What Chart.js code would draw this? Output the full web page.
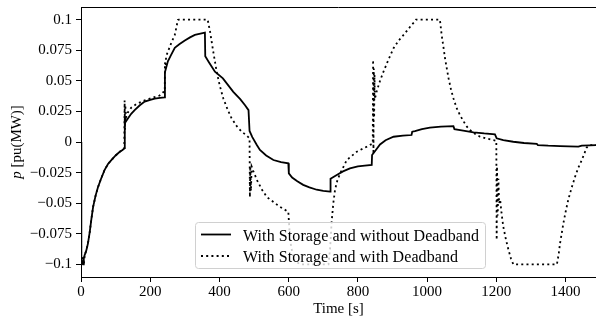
<!DOCTYPE html>
<html>
<head>
<meta charset="utf-8">
<script src="https://cdn.jsdelivr.net/npm/chart.js@4.4.0/dist/chart.umd.min.js"></script>
<style>
  html, body { margin: 0; padding: 0; background: #fff; }
  #wrap { position: relative; width: 596px; height: 318px; overflow: hidden; }
  #legend { position: absolute; left: 195px; top: 222px; }
</style>
</head>
<body>
<div id="wrap">
  <canvas id="myChart" width="596" height="318"></canvas>
  <svg id="legend" width="292" height="48" xmlns="http://www.w3.org/2000/svg">
    <rect x="0.5" y="0.5" width="290" height="46" rx="3" ry="3" fill="#fff" fill-opacity="0.8" stroke="#d0d0d0" stroke-width="1"></rect>
    <line x1="6" y1="12.5" x2="36" y2="12.5" stroke="#000" stroke-width="1.8"></line>
    <line x1="6" y1="34" x2="36" y2="34" stroke="#000" stroke-width="1.8" stroke-dasharray="2,3.2"></line>
    <text id="label0" x="48" y="18.5" font-family="Liberation Serif" font-size="16" textLength="236" lengthAdjust="spacing" fill="#000"></text>
    <text id="label1" x="48" y="39.7" font-family="Liberation Serif" font-size="16" textLength="215" lengthAdjust="spacing" fill="#000"></text>
  </svg>
</div>
<script>
const seriesLabels = ['With Storage and without Deadband', 'With Storage and with Deadband'];

// tick values
const timeTicks = [0, 200, 400, 600, 800, 1000, 1200, 1400];
const powerTicks = [-0.1, -0.075, -0.05, -0.025, 0, 0.025, 0.05, 0.075, 0.1];

// with storage, no deadband (solid)
const solidTime = [0, 1, 3, 6, 8, 11, 15, 20, 25, 30, 35, 42, 49, 58, 68, 78, 87, 100, 112, 120, 126,
  126.5, 128, 135, 145, 155, 170, 184, 200, 213, 228, 242, 242.5, 251, 260, 271, 285, 300, 315, 329, 345, 358,
  359, 370, 387, 410, 440, 460, 474, 484, 487, 495, 508, 517, 535, 556, 578, 599, 600.5, 610, 625, 642, 660,
  681, 700, 720, 721, 739, 757, 777, 800, 820, 840, 841, 852, 864, 880, 903, 930, 955, 957, 965, 985, 1008,
  1040, 1076, 1079, 1100, 1134, 1165, 1196, 1201, 1220, 1249, 1280, 1317, 1320, 1350, 1384, 1410, 1437, 1447,
  1470, 1488];
const solidPower = [0, -0.1, -0.098, -0.1, -0.095, -0.092, -0.089, -0.083, -0.074, -0.063, -0.053, -0.044,
  -0.037, -0.03, -0.023, -0.018, -0.015, -0.011, -0.008, -0.0065, -0.005,
  0.02, 0.016, 0.019, 0.023, 0.026, 0.03, 0.033, 0.0345, 0.0355, 0.036, 0.0365, 0.057, 0.066, 0.071, 0.077,
  0.08, 0.083, 0.0855, 0.0875, 0.0885, 0.0893,
  0.07, 0.065, 0.0575, 0.052, 0.041, 0.035, 0.03, 0.026, 0.009, 0.004, -0.0025, -0.0065, -0.011, -0.0147,
  -0.0165, -0.0174, -0.0256, -0.029, -0.032, -0.035, -0.037,
  -0.039, -0.04, -0.0406, -0.03, -0.027, -0.024, -0.0215, -0.02, -0.0193, -0.0188, -0.0106, -0.0065, -0.002,
  0.0015, 0.0043, 0.0052, 0.0057, 0.0084, 0.0088, 0.0105, 0.0117,
  0.0126, 0.013, 0.0105, 0.0095, 0.0079, 0.007, 0.0063, 0.003, 0.0015, 0.0002, -0.0008, -0.0016, -0.0025,
  -0.003, -0.0033, -0.0036, -0.0038, -0.003,
  -0.0027, -0.0025];

// with storage and deadband (dotted)
const dottedTime = [0, 0.5, 2, 4, 6, 8, 10, 11, 15, 20, 25, 30, 35, 42, 49, 58, 68, 78, 87, 100, 112, 120, 125,
  126, 127, 128, 130, 135, 145, 160, 184, 205, 227, 237, 242, 242.5, 244, 246, 251, 261, 271, 280, 283,
  366, 373, 382, 392, 401, 411, 423, 435, 450, 464, 478, 487, 488, 489, 491, 493, 496, 498, 510, 523, 537,
  556, 575, 599, 604, 614, 633, 715, 720, 724, 729, 734, 741, 749, 768, 797, 826, 843, 844, 845, 846, 847,
  848, 849, 854, 864, 874, 888, 903, 918, 932, 945, 955, 963, 968, 1037, 1042, 1047, 1052, 1057, 1062,
  1069, 1076, 1085, 1095, 1105, 1115, 1124, 1138, 1153, 1172, 1192, 1200, 1201, 1202, 1204, 1206, 1208,
  1211, 1215, 1220, 1228, 1235, 1242, 1249, 1375, 1380, 1384, 1394, 1401, 1408, 1418, 1428, 1437, 1447,
  1455, 1461, 1470, 1488];
const dottedPower = [0, -0.1, -0.097, -0.1, -0.094, -0.1, -0.095, -0.092, -0.089, -0.083, -0.074, -0.063,
  -0.053, -0.044, -0.037, -0.03, -0.023, -0.018, -0.015, -0.011, -0.008, -0.0065, -0.005,
  0.034, 0.01, 0.03, 0.02, 0.024, 0.028, 0.031, 0.034, 0.036, 0.038, 0.0406, 0.041, 0.065, 0.06, 0.07,
  0.0738, 0.081, 0.0875, 0.0997, 0.1,
  0.1, 0.09, 0.074, 0.0575, 0.046, 0.0357, 0.027, 0.0194, 0.013, 0.0085, 0.0055, 0.003, -0.045, -0.02,
  -0.04, -0.02, -0.022, -0.024, -0.032, -0.039, -0.045,
  -0.049, -0.053, -0.057, -0.08, -0.096, -0.1, -0.1, -0.086, -0.066, -0.05, -0.039, -0.031, -0.0256,
  -0.0147, -0.0079, -0.0038, -0.0012, 0.067, -0.01, 0.06, 0.02,
  0.055, 0.035, 0.041, 0.05, 0.0575, 0.067, 0.0766, 0.083, 0.0875, 0.092, 0.0956, 0.098, 0.1, 0.1, 0.0875,
  0.078, 0.068, 0.06, 0.052,
  0.043, 0.0357, 0.028, 0.022, 0.017, 0.0125, 0.0098, 0.0068, 0.0043, 0.0028, 0.0016, 0.001, -0.08, -0.02,
  -0.06, -0.03, -0.05,
  -0.047, -0.058, -0.069, -0.08, -0.088, -0.095, -0.1, -0.1, -0.092, -0.083, -0.066, -0.056, -0.047, -0.037,
  -0.028, -0.021, -0.0147,
  -0.009, -0.0045, -0.0025, -0.0025];

const serif = '"Liberation Serif", "Times New Roman", serif';

function toPoints(xs, ys) {
  return xs.map((x, i) => ({ x: x, y: ys[i] }));
}

function fmtTick(v) {
  if (v < 0) return '\u2212' + String(-v);
  return String(v);
}

/* matplotlib style top spine */
const topSpine = {
  id: 'topSpine',
  afterDraw(chart) {
    const { ctx, chartArea } = chart;
    const y = Math.round(chartArea.top) + 0.5;
    ctx.save();
    ctx.strokeStyle = '#000';
    ctx.lineWidth = 1;
    ctx.beginPath();
    ctx.moveTo(chartArea.left, y);
    ctx.lineTo(chartArea.right, y);
    ctx.stroke();
    ctx.restore();
  }
};

/* y label with italic p */
const yTitle = {
  id: 'yTitle',
  afterDraw(chart) {
    const { ctx, chartArea } = chart;
    const cy = (chartArea.top + chartArea.bottom) / 2;
    const ital = 'italic 15px ' + serif;
    const norm = '15px ' + serif;
    ctx.save();
    ctx.translate(17, cy);
    ctx.rotate(-Math.PI / 2);
    ctx.fillStyle = '#000';
    ctx.textBaseline = 'middle';
    ctx.textAlign = 'left';
    ctx.font = ital;
    const w1 = ctx.measureText('p').width;
    ctx.font = norm;
    const w2 = ctx.measureText(' [pu(MW)]').width;
    const x0 = -(w1 + w2) / 2;
    ctx.font = ital;
    ctx.fillText('p', x0, 0);
    ctx.font = norm;
    ctx.fillText(' [pu(MW)]', x0 + w1, 0);
    ctx.restore();
  }
};

function initChart(target) {
  const font = { family: serif, size: 15 };
  return new Chart(target, {
    type: 'line',
    data: {
      datasets: [
        {
          label: seriesLabels[1],
          data: toPoints(dottedTime, dottedPower),
          borderColor: '#000',
          borderWidth: 1.8,
          borderDash: [2, 3.2],
          pointRadius: 0,
          tension: 0,
          fill: false,
          order: 0
        },
        {
          label: seriesLabels[0],
          data: toPoints(solidTime, solidPower),
          borderColor: '#000',
          borderWidth: 1.8,
          pointRadius: 0,
          tension: 0,
          fill: false,
          order: 1
        }
      ]
    },
    options: {
      responsive: false,
      animation: false,
      layout: { padding: { top: 7, left: 0, right: 0, bottom: 0 } },
      plugins: { legend: { display: false }, tooltip: { enabled: false } },
      scales: {
        x: {
          type: 'linear',
          min: 0,
          max: 1488,
          afterBuildTicks: (s) => { s.ticks = timeTicks.map((v) => ({ value: v })); },
          afterFit: (s) => { s.height = 41; s.paddingLeft = 0; s.paddingRight = 0; },
          ticks: { font: font, color: '#000', padding: 1, maxRotation: 0, autoSkip: false, callback: (v) => String(v) },
          grid: { drawOnChartArea: false, drawTicks: true, tickLength: 5, color: '#000' },
          border: { display: true, color: '#000', width: 1 },
          title: { display: true, text: 'Time [s]', font: font, color: '#000', padding: { top: 0, bottom: 0 } }
        },
        y: {
          type: 'linear',
          min: -0.1103,
          max: 0.1103,
          afterBuildTicks: (s) => { s.ticks = powerTicks.map((v) => ({ value: v })); },
          afterFit: (s) => { s.width = 81; s.paddingTop = 0; s.paddingBottom = 0; },
          ticks: { font: font, color: '#000', padding: 4, autoSkip: false, callback: (v) => fmtTick(v) },
          grid: { drawOnChartArea: false, drawTicks: true, tickLength: 5, color: '#000' },
          border: { display: true, color: '#000', width: 1 }
        }
      }
    },
    plugins: [topSpine, yTitle]
  });
}

function mainEvent() {
  document.querySelector('#label0').textContent = seriesLabels[0];
  document.querySelector('#label1').textContent = seriesLabels[1];
  const target = document.querySelector('#myChart');
  initChart(target);
}

document.addEventListener('DOMContentLoaded', () => mainEvent());
</script>
</body>
</html>
